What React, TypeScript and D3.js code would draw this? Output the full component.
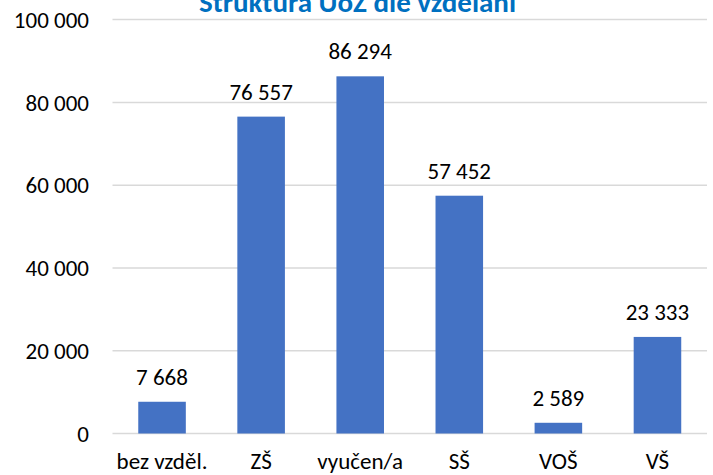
import React from "react";
import * as d3 from "d3";

const categories = ["bez vzděl.", "ZŠ", "vyučen/a", "SŠ", "VOŠ", "VŠ"];
const values = [7668, 76557, 86294, 57452, 2589, 23333];
const yTicks = [0, 20000, 40000, 60000, 80000, 100000];
const title = "Struktura UoZ dle vzdělání";

const W = 713;
const H = 475;
const M = { left: 112.5, right: 6, top: 19.6, bottom: 41.5 };

const fmt = (v: number) => d3.format(",")(v).replace(/,/g, " ");

export default function App() {
  const x = d3
    .scaleBand<string>()
    .domain(categories)
    .range([M.left, W - M.right])
    .paddingInner(0.52)
    .paddingOuter(0.26);
  const y = d3.scaleLinear().domain([0, 100000]).range([H - M.bottom, M.top]);
  const font = "Carlito, Calibri, Lato, sans-serif";
  return (
    <svg
      width={W}
      height={H}
      style={{ position: "absolute", left: 0, top: 0, background: "#fff" }}
      fontFamily={font}
    >
      {yTicks.map((t) => (
        <g key={t}>
          <line x1={M.left} x2={W - M.right} y1={y(t)} y2={y(t)} stroke="#d9d9d9" strokeWidth={1.5} />
          <text x={89} y={y(t)} dy="0.36em" textAnchor="end" fontSize={23} fill="#000">
            {fmt(t)}
          </text>
        </g>
      ))}
      {categories.map((c, i) => (
        <g key={c}>
          <rect x={x(c)} y={y(values[i])} width={x.bandwidth()} height={y(0) - y(values[i])} fill="#4472C4" />
          <text x={(x(c) as number) + x.bandwidth() / 2} y={y(values[i]) - 17} textAnchor="middle" fontSize={23} fill="#000">
            {fmt(values[i])}
          </text>
          <text x={(x(c) as number) + x.bandwidth() / 2} y={469} textAnchor="middle" fontSize={23} fill="#000">
            {c}
          </text>
        </g>
      ))}
      <text x={357.5} y={12} textAnchor="middle" fontSize={29} fontWeight="bold" fill="#0070C0">
        {title}
      </text>
    </svg>
  );
}
